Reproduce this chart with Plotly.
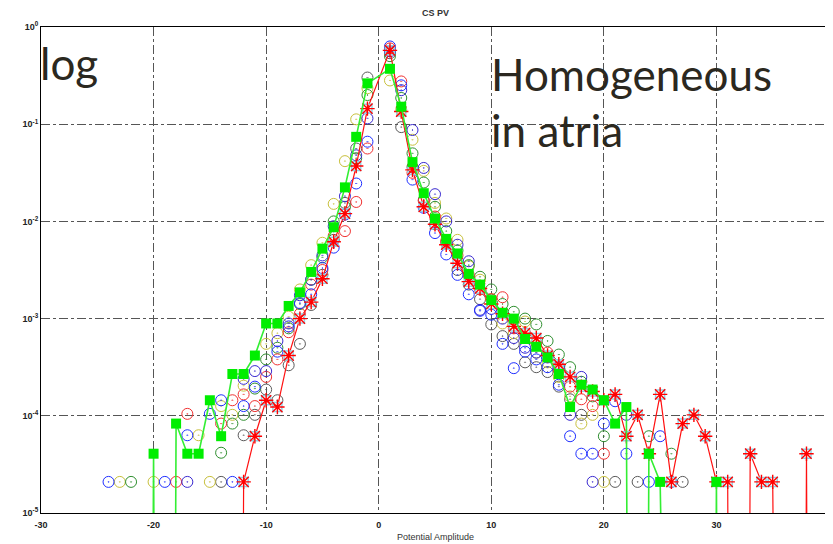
import plotly.graph_objects as go

# ---------------- data (values are log10 of probability) ----------------
# None in a line series = empty bin (drawn as a drop to the bottom of the log axis)
green_x = [-21, -20, -19, -18, -17, -16, -15, -14, -13, -12, -11, -10, -9, -8, -7, -6, -5, -4, -3, -2, -1,
           1, 2, 3, 4, 5, 6, 7, 8, 9, 10, 11, 12, 13, 14, 15, 16, 17, 18, 19, 20, 21, 22, 23, 24, 25, 26,
           27, 28, 29, 30, 31]
green_log = [None, -4.39, None, -4.08, -4.39, -4.39, -3.84, -4.21, -3.57, -3.57, -3.38, -3.05, -3.05, -2.87,
             -2.73, -2.52, -2.28, -2.06, -1.65, -1.13, -0.58,
             -0.43, -0.82, -1.39, -1.71, -1.97, -2.18, -2.33, -2.54, -2.65, -2.81, -2.94, -3.0, -3.21, -3.29,
             -3.40, -3.57, -3.91, -3.68, -3.73, -3.84, -4.08, -3.91, None, -4.39, -4.68, None,
             None, None, None, -4.68, None]

red_x = [-13, -12, -11, -10, -9, -8, -7, -6, -5, -4, -3, -2, -1,
         1, 2, 3, 4, 5, 6, 7, 8, 9, 10, 11, 12, 13, 14, 15, 16, 17, 18, 19, 20, 21, 22, 23, 24, 25, 26,
         27, 28, 29, 30, 31, 32, 33, 34, 35, 36, 37, 38, 39]
red_log = [None, -4.68, -4.21, -3.84, -3.91, -3.38, -3.0, -2.83, -2.59, -2.21, -1.92, -1.43, -0.84,
           -0.24, -0.87, -1.47, -1.85, -2.03, -2.24, -2.43, -2.62, -2.69, -2.85, -2.95, -3.08, -3.15, -3.2,
           -3.38, -3.47, -3.60, -3.70, -3.75, -3.84, -3.78, -4.21, -3.99, -4.39, -3.78, -4.68,
           -4.08, -3.99, -4.21, -4.68, -4.68, None, -4.39, -4.68, -4.68, None, None, -4.39, None]

blue_x = [-24, -19, -17, -15, -14, -13, -12, -11, -9, -8, -7, -6, -5, -4, -3, -2, -1,
          1, 2, 3, 4, 5, 6, 7, 8, 9, 10, 11, 12, 13, 14, 15, 16, 17, 18, 19, 20, 21, 22, 24, 25]
blue_log = [-4.68, -4.68, -4.2, -3.98, -3.84, -4.68, -3.9, -3.7, -3.34, -3.08, -2.84, -2.75, -2.48, -2.27,
            -1.93, -1.61, -1.18,
            -0.2, -0.6, -1.57, -1.86, -2.12, -2.34, -2.55, -2.75, -2.92, -2.96, -3.26, -3.51, -3.34, -3.42,
            -3.5, -3.68, -4.21, -4.39, -4.39, -4.08, -3.85, -4.39, -4.68, -4.21]

navy_x = [-17, -12, -11, -10, -9, -8, -7, -6, -5, -4, -3, -2, -1,
          1, 2, 3, 4, 5, 6, 7, 8, 9, 10, 11, 12, 13, 14, 15, 16, 17, 18, 19, 22, 26]
navy_log = [-4.68, -3.62, -3.54, -3.54, -3.23, -3.05, -2.76, -2.6, -2.35, -2.05, -1.74, -1.32, -0.94,
            -0.25, -0.65, -1.06, -1.45, -1.72, -2.0, -2.24, -2.41, -2.91, -2.9, -3.0, -3.2, -3.3, -3.35,
            -3.4, -3.5, -3.99, -3.6, -4.68, -3.99, -4.68]

redc_x = [-18, -17, -14, -13, -12, -11, -10, -9, -8, -7, -6, -5, -4, -3, -2, -1,
          1, 2, 3, 4, 5, 6, 7, 8, 9, 10, 11, 12, 13, 14, 15, 16, 17, 18, 19, 20]
redc_log = [-4.68, -3.98, -4.08, -3.84, -3.78, -3.9, -3.6, -3.42, -3.14, -2.95, -2.65, -2.5, -2.15, -2.1,
            -1.8, -1.25,
            -0.22, -0.56, -1.5, -1.79, -1.95, -2.2, -2.35, -2.55, -2.7, -2.8, -2.78, -3.1, -3.15, -3.25,
            -3.35, -3.53, -3.7, -3.83, -3.9, -4.39]

dkgreen_x = [-22, -14, -13, -12, -11, -10, -9, -8, -7, -6, -5, -4, -3, -2, -1,
             1, 2, 3, 4, 5, 6, 7, 8, 9, 10, 11, 12, 13, 14, 15, 16, 17, 18, 19, 20, 24, 26]
dkgreen_log = [-4.68, -4.38, -4.08, -3.99, -3.72, -3.42, -3.3, -3.1, -2.85, -2.6, -2.37, -2.0, -1.85,
               -1.35, -0.7,
               -0.3, -0.73, -1.3, -1.6, -1.85, -2.1, -2.3, -2.45, -2.57, -2.7, -2.85, -2.93, -3.0, -3.06,
               -3.23, -3.37, -3.5, -3.65, -3.8, -4.21, -4.21, -4.39]

yellow_x = [-23, -20, -16, -15, -14, -13, -12, -10, -9, -8, -7, -6, -5, -4, -3, -2, -1,
            1, 2, 3, 4, 5, 6, 7, 8, 9, 10, 11, 12, 13, 14, 15, 16, 17, 18, 19, 20]
yellow_log = [-4.68, -4.68, -4.2, -4.68, -3.9, -3.99, -3.69, -3.26, -3.15, -2.98, -2.7, -2.45, -2.22,
              -1.82, -1.38, -0.95, -0.63,
              -0.55, -0.85, -1.16, -1.48, -1.81, -1.97, -2.19, -2.46, -2.6, -2.8, -3.05, -3.15, -3.03,
              -3.35, -3.45, -3.6, -3.8, -4.08, -3.99, -4.68]

gray_x = [-14, -12, -11, -10, -9, -8, -7, -6, -5, -4, -3, -2, -1,
          1, 2, 3, 4, 5, 6, 7, 8, 9, 10, 11, 12, 13, 14, 15, 16, 17, 18, 21, 23, 27]
gray_log = [-4.68, -4.2, -3.99, -3.73, -3.84, -3.48, -3.26, -2.86, -2.55, -2.19, -1.81, -1.25, -0.52,
            -0.27, -1.03, -1.44, -1.78, -2.03, -2.22, -2.5, -2.65, -2.8, -3.06, -3.18, -3.26, -3.45,
            -3.5, -3.55, -3.7, -3.83, -3.99, -4.68, -4.68, -4.68]

x_ticks = [-30, -20, -10, 0, 10, 20, 30, 40]
y_ticks_exp = [-5, -4, -3, -2, -1, 0]

# ---------------- figure ----------------
EMPTY = 1e-30  # empty bins sit far below the visible range -> lines drop to the axis


def to_prob(logs, empty=None):
    return [10 ** v if v is not None else empty for v in logs]


fig = go.Figure()

circle_series = [
    (gray_x, gray_log, "#5a5a5a"),
    (yellow_x, yellow_log, "#c8c03c"),
    (dkgreen_x, dkgreen_log, "#2f8f2f"),
    (redc_x, redc_log, "#f03030"),
    (navy_x, navy_log, "#3a2ad0"),
    (blue_x, blue_log, "#1f2fff"),
]
for xs, ls, col in circle_series:
    fig.add_trace(go.Scatter(
        x=xs, y=to_prob(ls), mode="markers",
        marker=dict(symbol="circle-open-dot", size=11, color=col, line=dict(width=1, color=col)),
        showlegend=False, hoverinfo="skip"))

# red asterisk series (cyan halo beneath the asterisks)
red_y = to_prob(red_log, EMPTY)
fig.add_trace(go.Scatter(
    x=red_x, y=red_y, mode="lines", line=dict(color="#ff1010", width=1.2),
    showlegend=False, hoverinfo="skip"))
fig.add_trace(go.Scatter(
    x=red_x, y=red_y, mode="markers",
    marker=dict(symbol="square-open", size=9, color="#8fd3e6", line=dict(width=1.5, color="#8fd3e6")),
    showlegend=False, hoverinfo="skip"))
fig.add_trace(go.Scatter(
    x=red_x, y=red_y, mode="markers",
    marker=dict(symbol="asterisk-open", size=12, color="#ff0000", line=dict(width=1.4, color="#ff0000")),
    showlegend=False, hoverinfo="skip"))

# green squares with line
fig.add_trace(go.Scatter(
    x=green_x, y=to_prob(green_log, EMPTY), mode="lines+markers",
    line=dict(color="#33ee33", width=1.6),
    marker=dict(symbol="square", size=10, color="#00ee00"),
    showlegend=False, hoverinfo="skip"))

tick_font = dict(family="Liberation Sans", size=9, color="#222222", weight="bold")

fig.update_xaxes(
    range=[-30, 40], tickvals=x_ticks, ticktext=[str(t) for t in x_ticks],
    showgrid=True, gridcolor="#555555", griddash="dashdot", gridwidth=1,
    showline=True, linecolor="#000000", linewidth=1, mirror=True,
    zeroline=False, ticks="", tickfont=tick_font, ticklabelstandoff=3)

fig.update_yaxes(
    type="log", range=[-5, 0],
    tickvals=[10 ** e for e in y_ticks_exp],
    ticktext=[f"10<sup>{e}</sup>" for e in y_ticks_exp],
    showgrid=True, gridcolor="#555555", griddash="dashdot", gridwidth=1,
    showline=True, linecolor="#000000", linewidth=1, mirror=True,
    zeroline=False, ticks="", tickfont=tick_font)

big = dict(family="Lato", size=44, color="#2b2820")
annotations = [
    dict(text="CS PV", xref="paper", yref="paper", x=0.5, y=1, yshift=14, showarrow=False,
         font=dict(family="Liberation Sans", size=9, color="#333333", weight="bold"), yanchor="middle"),
    dict(text="Potential Amplitude", xref="paper", yref="paper", x=0.5, y=0, yshift=-24, showarrow=False,
         font=dict(family="Liberation Sans", size=9, color="#333333"), yanchor="middle"),
    dict(text="log", xref="paper", yref="paper", x=0.0, xshift=-3, y=0.925, xanchor="left",
         yanchor="middle", showarrow=False, font=big),
    dict(text="Homogeneous", xref="paper", yref="paper", x=0.568, y=0.903, xanchor="left",
         yanchor="middle", showarrow=False, font=big),
    dict(text="in atria", xref="paper", yref="paper", x=0.568, y=0.789, xanchor="left",
         yanchor="middle", showarrow=False, font=big),
]

# the page body adds an 8 px offset, so the figure is 8 px smaller and margins are reduced to match
fig.update_layout(
    width=825, height=536,
    margin=dict(l=33, r=4, t=19, b=31),
    paper_bgcolor="white", plot_bgcolor="white",
    annotations=annotations,
)

fig.write_html("out.html")
